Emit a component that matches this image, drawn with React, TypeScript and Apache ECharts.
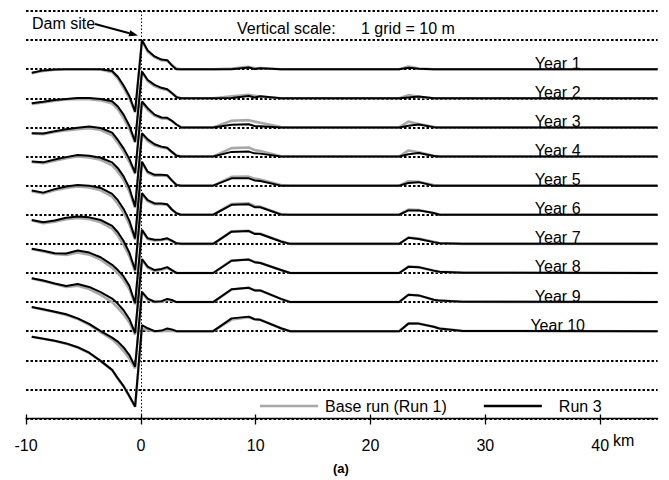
import React, { useEffect, useRef } from "react";
import * as echarts from "echarts";

// Distance along river (km), shared by every profile
const X_KM = [-9.5, -8.5, -7.5, -6.5, -5.5, -4.5, -3.5, -2.5, -2, -1.5, -1, -0.5,
  0.1, 0.6, 1.2, 1.8, 2.3, 2.7, 3.1, 3.5,
  6.3, 7.9, 9.4, 9.9, 10.4, 12.2, 13,
  22.5, 23.3, 24.2, 25.5, 26, 28, 45];

// Bed elevation change (m) - Run 3
const run3Year1 = [-1.2, -0.4, -0.1, 0, 0, 0, 0, -0.6, -2.6, -5.6, -9.2, -14.6, 10, 6.4, 4.4, 3.3, 3.1, 1.3, 0, 0, 0, 0, 0.6, 0.1, 0.3, 0, 0, 0, 0.5, 0.2, 0, 0, 0, 0];
const run3Year2 = [-1.7, -1.2, -0.6, -0.2, 0.1, 0.1, -0.2, -1.0, -2.8, -5.6, -9.4, -14.9, 9.2, 6.3, 4.6, 3.6, 3.1, 1.8, 0.4, 0, 0, 0.1, 0.8, 0.3, 0.7, 0, 0, 0, 0.3, 0.6, 0, 0, 0, 0];
const run3Year3 = [-2.0, -2.1, -1.3, -0.6, -0.1, 0.3, -0.2, -1.8, -4.3, -7.2, -10.8, -15.6, 8.9, 6.6, 4.4, 3.4, 3.3, 2.3, 1.0, 0, 0, 0.9, 1.1, 0.5, 0.4, 0, 0, 0, 0.6, 1.0, 0.1, 0, 0, 0];
const run3Year4 = [-1.7, -2.0, -1.0, -0.2, 0.5, 0.3, -0.4, -2.0, -4.0, -6.8, -10.8, -17.2, 8.0, 5.9, 4.2, 3.4, 3.0, 1.6, 0.3, 0, 0, 1.6, 1.7, 1.1, 1.0, 0, 0, 0, 0.8, 1.2, 0.2, 0, 0, 0];
const run3Year5 = [-1.7, -2.4, -1.2, -0.3, 0.2, 0, -0.8, -2.8, -5.0, -8.0, -12.0, -18.1, 8.2, 4.8, 3.7, 3.7, 3.6, 1.8, 0.2, 0, 0, 2.5, 2.5, 1.8, 1.6, 0, 0, 0, 0.9, 1.2, 0, 0, 0, 0];
const run3Year6 = [-1.8, -2.6, -2.0, -1.0, -0.6, -0.9, -1.8, -3.8, -6.0, -9.0, -13.0, -19.0, 7.4, 5.0, 3.9, 3.9, 3.6, 1.8, 0.5, 0, 0, 3.4, 3.6, 2.6, 2.6, 0.1, 0, 0, 1.5, 1.5, 0.6, 0, 0, 0];
const run3Year7 = [-1.7, -2.4, -3.2, -3.3, -2.3, -3.0, -4.6, -7.2, -9.0, -11.2, -14.4, -20.4, 4.8, 1.9, 1.4, 1.5, 1.9, 1.1, 0.2, 0, 0, 4.2, 4.4, 3.4, 3.4, 0.8, 0, 0, 2.1, 1.7, 0.6, 0.2, 0, 0];
const run3Year8 = [-1.8, -2.6, -3.6, -4.5, -3.8, -4.8, -6.6, -8.8, -10.6, -12.8, -15.8, -20.7, 4.8, 2.2, 1.0, 1.4, 2.0, 1.0, 0, 0, 0, 4.2, 4.6, 3.7, 3.4, 1.0, 0, 0, 2.1, 2.0, 0.8, 0.4, 0.1, 0];
const run3Year9 = [-1.7, -2.5, -3.3, -4.2, -5.6, -7.5, -10.0, -12.2, -13.6, -15.6, -18.2, -22.2, 3.5, 1.2, 0.1, 0.3, 1.1, 0.7, 0, 0, 0, 4.4, 4.9, 4.0, 4.0, 1.1, 0, 0, 2.5, 2.3, 0.8, 0.5, 0.1, 0];
const run3Year10 = [-1.9, -2.6, -3.3, -4.2, -5.5, -7.4, -10.2, -13.3, -16.2, -18.9, -22.3, -25.9, 2.1, 1.0, 0, 0.2, 0.9, 0.6, 0, 0, 0, 4.4, 5.0, 4.1, 3.9, 1.0, 0, 0, 2.6, 2.6, 1.5, 0.9, 0.1, 0];

// Bed elevation change (m) - Base run (Run 1)
const baseYear1 = [-1.4, -0.6, -0.2, 0, 0, 0, -0.1, -1.0, -3.2, -6.4, -10.0, -14.8, 9.8, 6.0, 4.1, 3.1, 2.9, 1.5, 0.2, 0, 0, 0.2, 0.8, 0.3, 0.4, 0, 0, 0, 0.9, 0.2, 0, 0, 0, 0];
const baseYear2 = [-1.9, -1.4, -0.8, -0.4, -0.2, -0.3, -0.7, -1.8, -3.8, -6.8, -10.5, -15.2, 9.0, 5.9, 4.2, 3.3, 2.9, 1.8, 0.5, 0, 0, 0.7, 1.2, 0.9, 0.6, 0, 0, 0, 1.1, 0.5, 0, 0, 0, 0];
const baseYear3 = [-2.1, -2.3, -1.6, -1.0, -0.6, -0.3, -0.9, -2.7, -5.3, -8.3, -11.8, -16.0, 8.6, 6.0, 4.0, 3.1, 3.0, 2.2, 1.0, 0, 0, 2.3, 2.5, 2.0, 1.6, 0.1, 0, 0, 2.0, 1.2, 0.2, 0, 0, 0];
const baseYear4 = [-1.9, -2.3, -1.4, -0.6, 0, -0.3, -1.1, -3.0, -5.2, -8.0, -12.0, -17.6, 7.7, 5.3, 3.8, 3.1, 2.8, 1.6, 0.4, 0, 0, 2.9, 3.1, 2.2, 1.9, 0.1, 0, 0, 2.1, 1.5, 0.3, 0, 0, 0];
const baseYear5 = [-1.9, -2.7, -1.6, -0.8, -0.3, -0.6, -1.6, -3.8, -6.2, -9.3, -13.2, -18.6, 7.9, 4.4, 3.4, 3.4, 3.3, 1.8, 0.3, 0, 0, 3.0, 3.1, 2.4, 2.1, 0.2, 0, 0, 1.5, 1.3, 0.2, 0, 0, 0];
const baseYear6 = [-2.0, -2.9, -2.4, -1.5, -1.1, -1.5, -2.6, -4.8, -7.2, -10.3, -14.2, -19.5, 7.1, 4.6, 3.6, 3.6, 3.4, 1.8, 0.5, 0, 0, 3.7, 3.9, 3.0, 2.8, 0.2, 0, 0, 1.8, 1.6, 0.6, 0.1, 0, 0];
const baseYear7 = [-1.8, -2.6, -3.5, -3.8, -3.0, -3.7, -5.4, -8.2, -10.1, -12.4, -15.5, -20.8, 4.6, 1.7, 1.2, 1.3, 1.7, 1.0, 0.2, 0, 0, 4.3, 4.5, 3.6, 3.5, 0.9, 0, 0, 2.2, 1.8, 0.7, 0.3, 0, 0];
const baseYear8 = [-1.9, -2.8, -3.8, -4.8, -4.4, -5.5, -7.5, -10.0, -12.0, -14.2, -17.0, -21.2, 4.5, 1.8, 0.7, 1.1, 1.7, 0.9, 0, 0, 0, 4.3, 4.6, 3.8, 3.5, 1.0, 0, 0, 2.2, 2.0, 0.8, 0.4, 0.1, 0];
const baseYear9 = [-1.8, -2.6, -3.4, -4.4, -5.8, -7.8, -10.3, -12.8, -14.6, -16.8, -19.4, -22.8, 3.2, 0.8, 0, 0.1, 0.8, 0.5, 0, 0, 0, 4.3, 4.9, 4.1, 4.0, 1.1, 0, 0, 2.5, 2.3, 0.8, 0.5, 0.1, 0];
const baseYear10 = [-1.9, -2.6, -3.4, -4.3, -5.6, -7.5, -10.3, -13.4, -16.3, -19.0, -22.4, -26.0, 1.0, 0.3, 0, 0, 0.2, 0.1, 0, 0, 0, 4.0, 4.8, 4.1, 3.9, 1.0, 0, 0, 2.6, 2.6, 1.5, 0.9, 0.1, 0];

const YEARS = ["Year 1", "Year 2", "Year 3", "Year 4", "Year 5", "Year 6", "Year 7", "Year 8", "Year 9", "Year 10"];
const RUN3 = [run3Year1, run3Year2, run3Year3, run3Year4, run3Year5, run3Year6, run3Year7, run3Year8, run3Year9, run3Year10];
const BASE = [baseYear1, baseYear2, baseYear3, baseYear4, baseYear5, baseYear6, baseYear7, baseYear8, baseYear9, baseYear10];
const X_TICKS = [-10, 0, 10, 20, 30, 40];
const GRID_STEP_M = 10; // 1 grid = 10 m
const LABEL_KM = 36.3;

const FONT = '"Liberation Sans", Arial, sans-serif';

export default function App() {
  const ref = useRef<HTMLDivElement>(null);

  useEffect(() => {
    if (!ref.current) return;
    const chart = echarts.init(ref.current, null, { renderer: "svg" });

    const series: any[] = [];
    const nYears = YEARS.length;
    // each year's profile is plotted around its own baseline, one grid apart
    const baselineOf = (i: number) => GRID_STEP_M * (nYears + 2 - i);

    BASE.forEach((vals, i) => {
      const b = baselineOf(i);
      series.push({
        name: "Base run (Run 1)",
        type: "line",
        data: X_KM.map((x, j) => [x, b + vals[j]]),
        showSymbol: false,
        symbol: "none",
        silent: true,
        z: 2,
        itemStyle: { color: "#a8a8a8" },
        lineStyle: { color: "#a8a8a8", width: 2.6 },
      });
    });

    RUN3.forEach((vals, i) => {
      const b = baselineOf(i);
      const s: any = {
        name: "Run 3",
        type: "line",
        data: X_KM.map((x, j) => [x, b + vals[j]]),
        showSymbol: false,
        symbol: "none",
        silent: true,
        z: 3,
        itemStyle: { color: "#000" },
        lineStyle: { color: "#000", width: 2 },
        markPoint: {
          silent: true,
          symbol: "circle",
          symbolSize: 0,
          itemStyle: { color: "transparent" },
          label: {
            show: true,
            position: "top",
            distance: -2,
            formatter: YEARS[i],
            color: "#000",
            fontSize: 16,
            fontFamily: FONT,
          },
          data: [{ coord: [LABEL_KM, b] }],
        },
      };
      if (i === 0) {
        s.markLine = {
          silent: true,
          symbol: ["none", "none"],
          label: { show: false },
          lineStyle: { color: "#000", type: [1.5, 2], width: 1 },
          data: [{ xAxis: 0 }],
        };
      }
      series.push(s);
    });

    const option: any = {
      animation: false,
      backgroundColor: "#fff",
      grid: { left: 26, right: 11.4, top: 11, bottom: 61.5, containLabel: false },
      xAxis: [
        {
          type: "value",
          min: -10,
          max: 45,
          interval: 10,
          position: "bottom",
          axisLine: { show: true, onZero: false, lineStyle: { color: "#000", width: 1.3 } },
          axisTick: { show: true, length: 6, inside: false, customValues: X_TICKS, lineStyle: { color: "#000", width: 1.3 } },
          axisLabel: { show: true, customValues: X_TICKS, color: "#000", fontSize: 16, fontFamily: FONT, margin: 19 },
          splitLine: { show: false },
        },
        {
          type: "value",
          min: -10,
          max: 45,
          interval: 10,
          position: "bottom",
          offset: 0,
          axisLine: { show: false, onZero: false },
          axisTick: { show: true, length: 4, inside: true, customValues: X_TICKS, lineStyle: { color: "#000", width: 1.3 } },
          axisLabel: { show: false },
          splitLine: { show: false },
        },
      ],
      yAxis: {
        type: "value",
        min: 0,
        max: 140,
        interval: GRID_STEP_M,
        axisLine: { show: false },
        axisTick: { show: false },
        axisLabel: { show: false },
        splitLine: { show: true, lineStyle: { color: "#000", type: [2.5, 2], width: 2 } },
      },
      legend: {
        left: 255,
        top: 393,
        icon: "rect",
        itemWidth: 58,
        itemHeight: 2.5,
        itemGap: 37,
        textStyle: { fontSize: 16, color: "#000", fontFamily: FONT },
        data: [
          { name: "Base run (Run 1)", textStyle: { padding: [0, 0, 0, 2] } },
          { name: "Run 3", textStyle: { padding: [0, 0, 0, 12] } },
        ],
      },
      graphic: [
        { type: "text", left: 32, top: 15, style: { text: "Dam site", font: `16px ${FONT}`, fill: "#000" } },
        { type: "line", shape: { x1: 95, y1: 24, x2: 129.5, y2: 33.2 }, style: { stroke: "#000", lineWidth: 2 } },
        { type: "polygon", shape: { points: [[138, 35.5], [128.5, 36.3], [130.2, 30.2]] }, style: { fill: "#000" } },
        { type: "text", left: 237, top: 20, style: { text: "Vertical scale:", font: `16px ${FONT}`, fill: "#000" } },
        { type: "text", left: 361, top: 20, style: { text: "1 grid = 10 m", font: `16px ${FONT}`, fill: "#000" } },
        { type: "text", left: 613, top: 432, style: { text: "km", font: `16px ${FONT}`, fill: "#000" } },
        { type: "text", left: 333, top: 462, style: { text: "(a)", font: `bold 13px ${FONT}`, fill: "#000" } },
      ],
      series,
    };

    chart.setOption(option);
    return () => chart.dispose();
  }, []);

  return (
    <div
      ref={ref}
      style={{ position: "fixed", left: 0, top: 0, width: 669, height: 480, background: "#fff" }}
    />
  );
}
